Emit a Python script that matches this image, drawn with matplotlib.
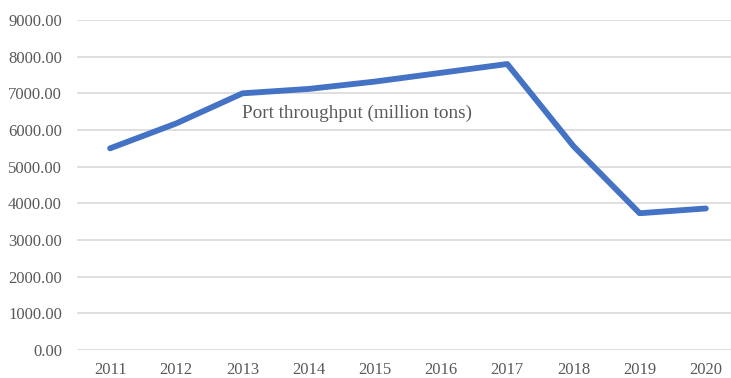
import matplotlib
matplotlib.use("Agg")
import matplotlib.pyplot as plt

years = ["2011", "2012", "2013", "2014", "2015", "2016", "2017", "2018", "2019", "2020"]
throughput = [5500, 6180, 7000, 7120, 7320, 7560, 7800, 5560, 3730, 3860]
series_name = "Port throughput (million tons)"
y_ticks = [0, 1000, 2000, 3000, 4000, 5000, 6000, 7000, 8000, 9000]

plt.rcParams["font.family"] = ["Liberation Serif", "DejaVu Serif"]

fig = plt.figure(figsize=(7.31, 3.78), dpi=100)
W, H = 731, 378
left, right, top, bottom = 77, 731, 20, 350
ax = fig.add_axes([left / W, 1 - bottom / H, (right - left) / W, (bottom - top) / H])

x = list(range(len(years)))
ax.plot(x, throughput, color="#4472C4", linewidth=4.2, solid_capstyle="round",
        solid_joinstyle="round", zorder=3)

ax.set_ylim(0, 9000)
ax.set_xlim(-0.5, 9.38)
ax.set_yticks(y_ticks)
ax.set_yticklabels([f"{v:.2f}" for v in y_ticks])
ax.set_xticks(x)
ax.set_xticklabels(years)

ax.grid(axis="y", color="#D9D9D9", linewidth=1.2)
ax.set_axisbelow(True)
for s in ax.spines.values():
    s.set_visible(False)
ax.tick_params(axis="both", length=0, labelsize=12, colors="#595959")
ax.tick_params(axis="y", pad=10.8)
ax.tick_params(axis="x", pad=8.5)

ax.text(2, 6460, series_name, ha="left", va="center", fontsize=13.8, color="#595959")

fig.savefig("out.png", dpi=100)
